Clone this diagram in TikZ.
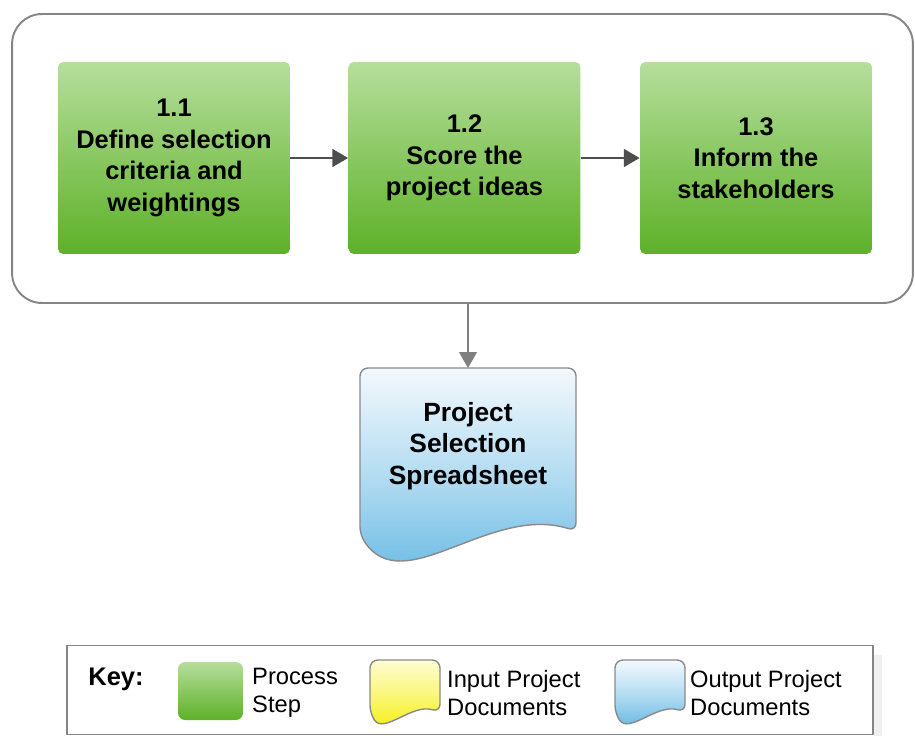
\documentclass[tikz,border=0pt]{standalone}
\usepackage{fontspec}
\setmainfont{Liberation Sans}
\usetikzlibrary{arrows.meta}
\definecolor{stepTop}{HTML}{B6DE9C}
\definecolor{stepBot}{HTML}{5DB128}
\definecolor{outTop}{HTML}{F4F9FD}
\definecolor{outBot}{HTML}{58B3E1}
\definecolor{inTop}{HTML}{FEFDD2}
\definecolor{inBot}{HTML}{F5EE00}
\definecolor{panelline}{HTML}{858585}
\definecolor{docline}{HTML}{8A8A8A}
\definecolor{arrowline}{HTML}{4D4D4D}
\newcommand{\docshape}[6]{%
\begin{scope}[shift={(#1,#2)},xscale=#3,yscale=#4]
\shade[draw=docline,line width=.8pt,rounded corners=4.5pt,top color=#5,bottom color=#6,middle color=#6!45!#5]
(100,84) .. controls (60,70) and (20,120) .. (0,86)--(0,0)--(100,0)--cycle;
\end{scope}}
\begin{document}
\begin{tikzpicture}[x=.02cm,y=-.02cm,line join=round,>={Stealth[length=9pt,width=10pt,inset=0pt]},
procbox/.style={rounded corners=3pt,top color=stepTop,bottom color=stepBot,minimum width=4.64cm,minimum height=3.84cm,align=center,font=\fontsize{14.5}{18}\selectfont\bfseries},
keytext/.style={anchor=west,align=left,font=\fontsize{13.5}{15.9}\selectfont}]
\useasboundingbox (0,0) rectangle (915,736);
\node[draw=panelline,line width=1.1pt,rounded corners=17pt,minimum width=18.02cm,minimum height=5.78cm] (stage) at (462.5,158.5) {};
\node[procbox] (s1) at (174,158) {1.1\\Define selection\\criteria and\\weightings};
\node[procbox] (s2) at (464.5,158) {1.2\\Score the\\project ideas};
\node[procbox] (s3) at (756,158) {1.3\\Inform the\\stakeholders};
\draw[->,arrowline,line width=1.6pt] (s1)--(s2);
\draw[->,arrowline,line width=1.6pt] (s2)--(s3);
\docshape{360}{368}{2.16}{1.94}{outTop}{outBot}
\node[font=\fontsize{15}{18.1}\selectfont\bfseries,align=center] (sheet) at (468,446) {Project\\Selection\\Spreadsheet};
\coordinate (sheettop) at (468,368);
\draw[->,gray,line width=1.2pt] (stage.south -| sheettop)--(sheettop);
% key
\fill[gray!12] (873,655) rectangle (882,736);
\node[draw=panelline,line width=.8pt,minimum width=16.12cm,minimum height=1.78cm] (key) at (470,690) {};
\node[font=\fontsize{14.5}{17}\selectfont\bfseries] (keylbl) at (116,679) {Key:};
\node[rounded corners=4pt,top color=stepTop,bottom color=stepBot,minimum width=1.3cm,minimum height=1.16cm] (kstep) at (210.5,691) {};
\node[keytext] (kstept) at (246,693) {Process\\Step};
\docshape{370}{660}{.70}{.62}{inTop}{inBot}
\node[keytext] (kint) at (441,693) {Input Project\\Documents};
\docshape{615}{660}{.70}{.62}{outTop}{outBot}
\node[keytext] (koutt) at (684,693) {Output Project\\Documents};
\end{tikzpicture}
\end{document}
